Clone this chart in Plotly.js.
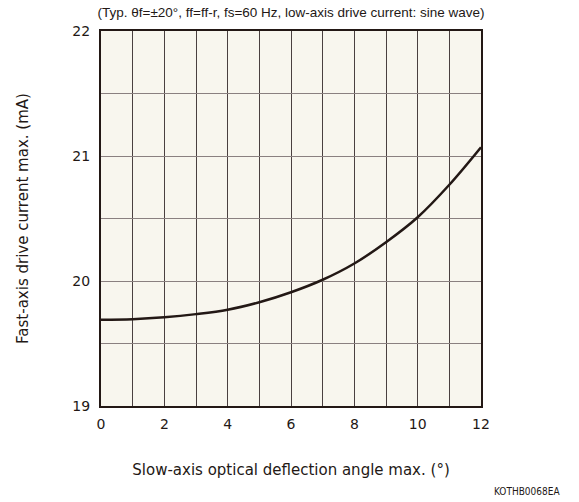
<!DOCTYPE html>
<html>
<head>
<meta charset="utf-8">
<script src="https://cdn.plot.ly/plotly-3.0.1.min.js"></script>
<style>html,body{margin:0;padding:0;background:#fff;}#chart{width:579px;height:502px;}</style>
</head>
<body>
<div id="chart"></div>
<script>
var angleDeg = [0, 1, 2, 3, 4, 5, 6, 7, 8, 9, 10, 11, 12];
var currentMA = [19.69, 19.695, 19.71, 19.735, 19.77, 19.83, 19.91, 20.01, 20.14, 20.31, 20.51, 20.77, 21.07];
var xTickVals = [0, 1, 2, 3, 4, 5, 6, 7, 8, 9, 10, 11, 12];
var xTickText = ['0', '', '2', '', '4', '', '6', '', '8', '', '10', '', '12'];
var yTickVals = [19, 19.5, 20, 20.5, 21, 21.5, 22];
var yTickText = ['19', '', '20', '', '21', '', '22'];

var trace = {
  x: angleDeg, y: currentMA, type: 'scatter', mode: 'lines',
  line: {color: '#231815', width: 2.5, shape: 'spline', smoothing: 1},
  hoverinfo: 'skip'
};
var layout = {
  width: 579, height: 502,
  margin: {l: 101, r: 98, t: 31, b: 96},
  paper_bgcolor: '#ffffff', plot_bgcolor: '#f8f6ee',
  showlegend: false,
  font: {family: 'DejaVu Sans, Verdana, sans-serif', color: '#231815', size: 14},
  title: {text: '(Typ. θf=±20°, ff=ff-r, fs=60 Hz, low-axis drive current: sine wave)',
          font: {family: 'Liberation Sans Narrow, Arial Narrow, Liberation Sans, sans-serif', size: 13.5, color: '#231815'},
          x: 0.5027, xanchor: 'center', y: 0.975, yanchor: 'middle'},
  xaxis: {range: [0, 12], tickvals: xTickVals, ticktext: xTickText, showgrid: true,
          gridcolor: '#4a4040', gridwidth: 1, zeroline: false, showline: true, mirror: true,
          linecolor: '#231815', linewidth: 2, ticks: '', ticklen: 0, ticklabelstandoff: 4,
          tickfont: {size: 14}, fixedrange: true,
          title: {text: 'Slow-axis optical deflection angle max. (°)', font: {size: 15}, standoff: 34}},
  yaxis: {range: [19, 22], tickvals: yTickVals, ticktext: yTickText, showgrid: true,
          gridcolor: '#8a8080', gridwidth: 1, zeroline: false, showline: true, mirror: true,
          linecolor: '#231815', linewidth: 2, ticks: '', ticklen: 0, ticklabelstandoff: 6,
          tickfont: {size: 14}, fixedrange: true,
          title: {text: 'Fast-axis drive current max. (mA)', font: {size: 15}, standoff: 40}},
  annotations: [{text: 'KOTHB0068EA', xref: 'paper', yref: 'paper', x: 1.121, y: -0.229,
                 xanchor: 'center', yanchor: 'middle', showarrow: false,
                 font: {size: 10, family: 'DejaVu Sans Condensed, DejaVu Sans, sans-serif', color: '#231815'}}]
};
Plotly.newPlot('chart', [trace], layout, {staticPlot: true, displayModeBar: false});
</script>
</body>
</html>
